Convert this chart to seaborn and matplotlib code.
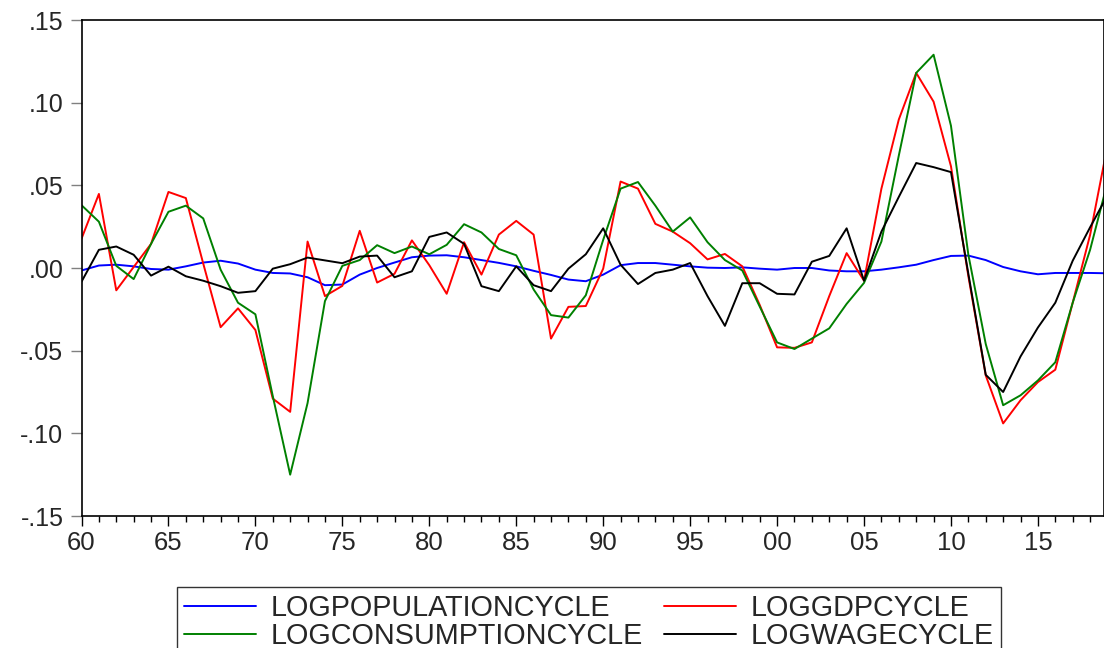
import numpy as np
import pandas as pd
import matplotlib
matplotlib.use("Agg")
import matplotlib.pyplot as plt
import seaborn as sns
from matplotlib.ticker import MultipleLocator, FuncFormatter

years = list(range(1960, 2020))

log_population_cycle = [
    -0.0015, 0.0015, 0.0020, 0.0010, -0.0006, -0.0010, 0.0010, 0.0033, 0.0044, 0.0027,
    -0.0010, -0.0030, -0.0033, -0.0056, -0.0104, -0.0100, -0.0040, 0.0000, 0.0033, 0.0065,
    0.0075, 0.0077, 0.0065, 0.0048, 0.0031, 0.0010, -0.0017, -0.0042, -0.0070, -0.0080,
    -0.0040, 0.0017, 0.0030, 0.0030, 0.0020, 0.0010, 0.0002, 0.0000, 0.0004, -0.0004,
    -0.0010, 0.0000, 0.0000, -0.0015, -0.0020, -0.0020, -0.0010, 0.0004, 0.0020, 0.0048,
    0.0073, 0.0075, 0.0048, 0.0006, -0.0020, -0.0038, -0.0030, -0.0030, -0.0030, -0.0032,
]
log_gdp_cycle = [
    0.0177, 0.0448, -0.0135, 0.0006, 0.0146, 0.0460, 0.0423, 0.0027, -0.0358, -0.0244,
    -0.0375, -0.0790, -0.0870, 0.0160, -0.0170, -0.0108, 0.0225, -0.0088, -0.0035, 0.0167,
    0.0017, -0.0156, 0.0156, -0.0040, 0.0202, 0.0285, 0.0202, -0.0427, -0.0235, -0.0230,
    -0.0004, 0.0523, 0.0480, 0.0267, 0.0220, 0.0150, 0.0052, 0.0085, 0.0010, -0.0223,
    -0.0480, -0.0483, -0.0450, -0.0170, 0.0090, -0.0077, 0.0480, 0.0898, 0.1180, 0.1006,
    0.0615, -0.0050, -0.0650, -0.0940, -0.0800, -0.0690, -0.0615, -0.0210, 0.0200, 0.0740,
]
log_consumption_cycle = [
    0.0380, 0.0280, 0.0013, -0.0067, 0.0146, 0.0340, 0.0377, 0.0300, -0.0010, -0.0210,
    -0.0280, -0.0775, -0.1250, -0.0817, -0.0200, 0.0013, 0.0048, 0.0138, 0.0090, 0.0130,
    0.0083, 0.0140, 0.0265, 0.0215, 0.0115, 0.0077, -0.0130, -0.0285, -0.0300, -0.0165,
    0.0170, 0.0480, 0.0520, 0.0377, 0.0220, 0.0306, 0.0156, 0.0048, -0.0015, -0.0233,
    -0.0450, -0.0490, -0.0427, -0.0365, -0.0217, -0.0090, 0.0160, 0.0680, 0.1180, 0.1290,
    0.0860, 0.0080, -0.0460, -0.0830, -0.0770, -0.0680, -0.0570, -0.0210, 0.0110, 0.0517,
]
log_wage_cycle = [
    -0.0083, 0.0110, 0.0130, 0.0080, -0.0046, 0.0008, -0.0050, -0.0077, -0.0110, -0.0150,
    -0.0140, -0.0004, 0.0023, 0.0063, 0.0046, 0.0029, 0.0069, 0.0075, -0.0056, -0.0020,
    0.0188, 0.0215, 0.0146, -0.0110, -0.0140, 0.0010, -0.0104, -0.0140, -0.0004, 0.0083,
    0.0240, 0.0020, -0.0097, -0.0030, -0.0010, 0.0030, -0.0170, -0.0350, -0.0092, -0.0092,
    -0.0156, -0.0160, 0.0038, 0.0073, 0.0240, -0.0077, 0.0220, 0.0430, 0.0635, 0.0610,
    0.0580, -0.0035, -0.0646, -0.0750, -0.0535, -0.0360, -0.0210, 0.0044, 0.0246, 0.0440,
]

series_names = ["LOGPOPULATIONCYCLE", "LOGGDPCYCLE", "LOGCONSUMPTIONCYCLE", "LOGWAGECYCLE"]
series_colors = ["#0000FF", "#FF0000", "#008000", "#000000"]

sns.set_style("white")
plt.rcParams["font.family"] = ["Liberation Sans", "DejaVu Sans"]

df = pd.DataFrame({
    "year": years * 4,
    "value": log_population_cycle + log_gdp_cycle + log_consumption_cycle + log_wage_cycle,
    "series": np.repeat(series_names, len(years)),
})

fig = plt.figure(figsize=(11.04, 6.48), dpi=100)
ax = fig.add_axes([81.5 / 1104, 1 - 516 / 648, 1 - 81.5 / 1104, (516 - 20) / 648])

sns.lineplot(data=df, x="year", y="value", hue="series", hue_order=series_names,
             palette=series_colors, linewidth=1.4, legend=False, ax=ax)

ax.set_xlim(1960, 2018.8)
ax.set_ylim(-0.15, 0.15)
ax.set_xlabel("")
ax.set_ylabel("")

ax.xaxis.set_major_locator(MultipleLocator(5))
ax.xaxis.set_minor_locator(MultipleLocator(1))
ax.xaxis.set_major_formatter(FuncFormatter(lambda v, p: f"{int(round(v)) % 100:02d}"))
ax.yaxis.set_major_locator(MultipleLocator(0.05))
ax.yaxis.set_major_formatter(FuncFormatter(lambda v, p: f"{v:.2f}".replace("0.", ".")))

ax.tick_params(axis="x", which="major", direction="out", length=7.5, width=1, color="black",
               labelsize=18.5, pad=3, bottom=True)
ax.tick_params(axis="x", which="minor", direction="out", length=4.5, width=1, color="black", bottom=True)
ax.tick_params(axis="y", which="major", direction="out", length=8, width=1, color="gray",
               labelsize=18, pad=5, left=True)

for side in ["left", "bottom", "top", "right"]:
    ax.spines[side].set_visible(True)
    ax.spines[side].set_color("black")
    ax.spines[side].set_linewidth(1.2)

handles = ax.get_lines()[:4]
# order so that the 2-column legend reads row-wise like the original
order = [0, 2, 1, 3]
leg = fig.legend([handles[i] for i in order], [series_names[i] for i in order],
                 ncol=2, loc="upper left", bbox_to_anchor=(177 / 1104, 1 - 587 / 648),
                 frameon=True, fancybox=False, edgecolor="black", fontsize=20.7,
                 handlelength=2.5, handletextpad=0.5, columnspacing=0.75,
                 labelspacing=0.0, borderpad=0.25, borderaxespad=0)
leg.get_frame().set_linewidth(1.0)

fig.savefig("out.png", dpi=100)
